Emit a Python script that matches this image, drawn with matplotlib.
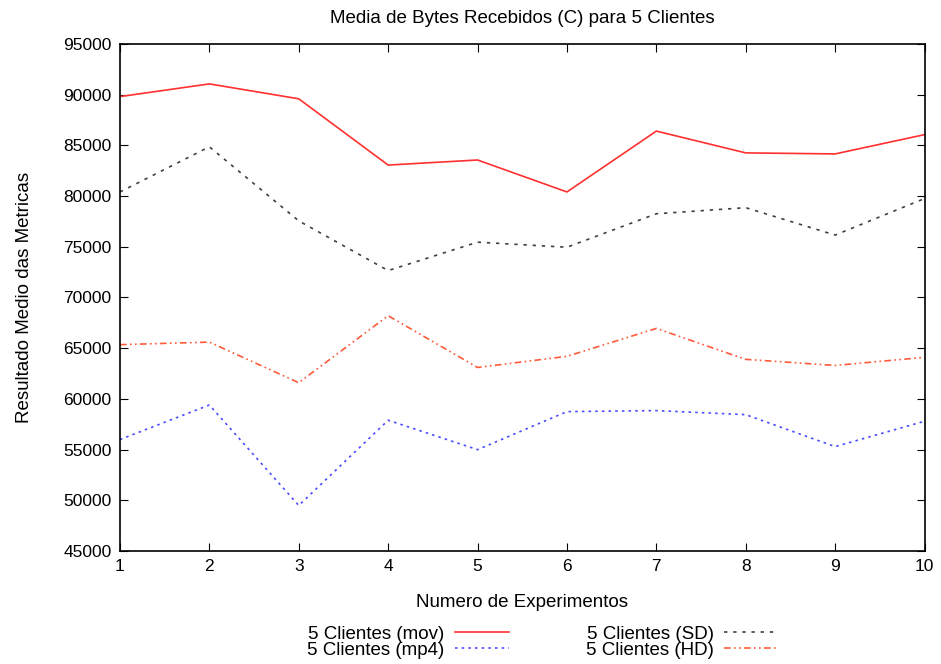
import matplotlib
matplotlib.use("Agg")
import matplotlib.pyplot as plt

plt.rcParams['font.family'] = ['Liberation Sans', 'DejaVu Sans']

experimentos = list(range(1, 11))
mov = [89800, 91050, 89580, 83050, 83550, 80400, 86400, 84250, 84150, 86050]
sd = [80400, 84850, 77550, 72650, 75450, 74950, 78250, 78850, 76150, 79750]
hd = [65350, 65600, 61600, 68200, 63100, 64200, 66950, 63900, 63300, 64100]
mp4 = [56000, 59400, 49500, 57900, 55000, 58750, 58850, 58450, 55300, 57800]

fig = plt.figure(figsize=(9.41, 6.64), dpi=100)
ax = fig.add_axes([0.1275, 0.170, 0.855, 0.764])

l_mov, = ax.plot(experimentos, mov, color='#ff3030', lw=1.2, label='5 Clientes (mov)')
l_sd, = ax.plot(experimentos, sd, color='#404040', lw=1.2, dashes=(2, 3.5), label='5 Clientes (SD)')
l_hd, = ax.plot(experimentos, hd, color='#ff5a3a', lw=1.2, dashes=(4, 2, 1, 2, 1, 2), label='5 Clientes (HD)')
l_mp4, = ax.plot(experimentos, mp4, color='#4a4aff', lw=1.2, dashes=(1.5, 2.5), label='5 Clientes (mp4)')

ax.set_xlim(1, 10)
ax.set_ylim(45000, 95000)
ax.set_xticks(experimentos)
ax.set_yticks(range(45000, 95001, 5000))
ax.tick_params(direction='in', top=True, right=True, labelsize=12.5, length=6, pad=6)
for s in ax.spines.values():
    s.set_linewidth(1.2)

ax.set_title('Media de Bytes Recebidos (C) para 5 Clientes', fontsize=13.5, pad=15)
ax.set_xlabel('Numero de Experimentos', fontsize=13.5, labelpad=14)
ax.set_ylabel('Resultado Medio das Metricas', fontsize=13.5, labelpad=22)

fig.legend([l_mov, l_mp4, l_sd, l_hd],
           ['5 Clientes (mov)', '5 Clientes (mp4)', '5 Clientes (SD)', '5 Clientes (HD)'],
           loc='center', bbox_to_anchor=(0.577, 0.033), ncol=2, frameon=False,
           markerfirst=False, fontsize=13.5, handlelength=2.9, columnspacing=4.1,
           labelspacing=-0.05, handletextpad=0.55)

fig.savefig('out.png', dpi=100)
